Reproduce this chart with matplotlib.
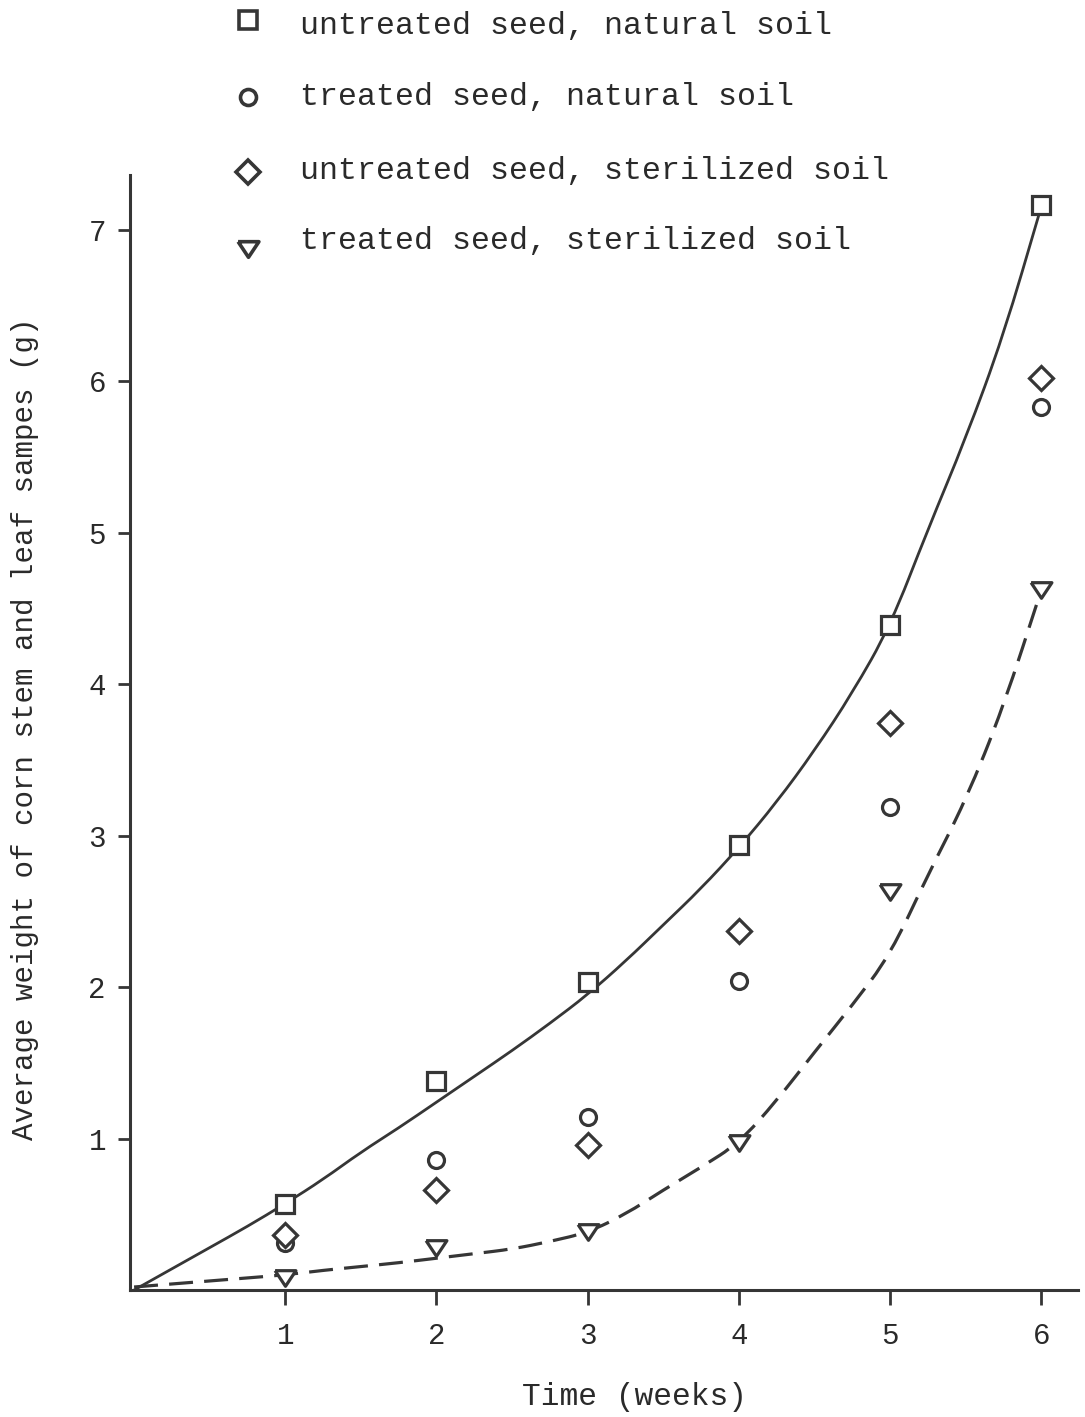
import matplotlib
matplotlib.use("Agg")
import matplotlib.pyplot as plt
from matplotlib.path import Path
from matplotlib.patches import PathPatch

# Average weight (g) of corn stem and leaf samples per week
weeks = [1, 2, 3, 4, 5, 6]
untreated_natural = [0.57, 1.38, 2.03, 2.94, 4.39, 7.16]
treated_natural = [0.31, 0.86, 1.14, 2.04, 3.19, 5.83]
untreated_sterilized = [0.36, 0.66, 0.96, 2.37, 3.74, 6.02]
treated_sterilized = [0.08, 0.28, 0.38, 0.97, 2.63, 4.62]

series_labels = [
    "untreated seed, natural soil",
    "treated seed, natural soil",
    "untreated seed, sterilized soil",
    "treated seed, sterilized soil",
]

# Hand-fitted growth curves
fit_weeks = [0, 0.25, 0.5, 0.75, 1.0, 1.25, 1.5, 1.75, 2.0, 2.25, 2.5, 2.75,
             3.0, 3.25, 3.5, 3.75, 4.0, 4.25, 4.5, 4.75, 5.0, 5.25, 5.5, 5.75, 6.0]
natural_fit = [0.0, 0.14, 0.28, 0.42, 0.57, 0.73, 0.91, 1.07, 1.24, 1.41, 1.58, 1.76,
               1.95, 2.17, 2.41, 2.65, 2.92, 3.22, 3.56, 3.94, 4.38, 5.02, 5.62, 6.30, 7.15]
sterilized_fit = [0.02, 0.04, 0.06, 0.08, 0.10, 0.13, 0.155, 0.18, 0.21, 0.24, 0.27, 0.32,
                  0.38, 0.50, 0.66, 0.81, 0.97, 1.25, 1.57, 1.88, 2.21, 2.74, 3.23, 3.85, 4.62]

x_ticks = [1, 2, 3, 4, 5, 6]
y_ticks = [1, 2, 3, 4, 5, 6, 7]

INK = "#363636"
TEXT = "#2a2a2a"
plt.rcParams["font.family"] = ["Liberation Mono", "DejaVu Sans Mono"]


def smooth_path(xs, ys):
    """Quadratic-spline path through the midpoints of the fitted points."""
    pts = list(zip(xs, ys))
    verts = [pts[0]]
    codes = [Path.MOVETO]
    for i in range(1, len(pts) - 1):
        mid = ((pts[i][0] + pts[i + 1][0]) / 2, (pts[i][1] + pts[i + 1][1]) / 2)
        verts += [pts[i], mid]
        codes += [Path.CURVE3, Path.CURVE3]
    verts.append(pts[-1])
    codes.append(Path.LINETO)
    return Path(verts, codes)


fig = plt.figure(figsize=(10.85, 14.17), dpi=100)
ax = fig.add_axes([0.1194, 0.0896, 0.8737, 0.7869])

ax.add_patch(PathPatch(smooth_path(fit_weeks, natural_fit), fill=False,
                       edgecolor=INK, lw=2.0, capstyle="round", zorder=2))
ax.add_patch(PathPatch(smooth_path(fit_weeks, sterilized_fit), fill=False,
                       edgecolor=INK, lw=2.3, linestyle=(0, (7.5, 3.5)), zorder=2))

tri_down = [(-1, 0.75), (1, 0.75), (0, -0.75), (-1, 0.75)]
styles = [
    dict(marker="s", ms=13.5),
    dict(marker="o", ms=11.5),
    dict(marker="D", ms=12.5),
    dict(marker=tri_down, ms=15),
]
series = [untreated_natural, treated_natural, untreated_sterilized, treated_sterilized]

for vals, st in zip(series, styles):
    ax.plot(weeks, vals, ls="none", mfc="white", mec=INK, mew=2.3, zorder=3,
            clip_on=False, **st)

ax.set_xlim(-0.03, 6.24)
ax.set_ylim(0, 7.36)
ax.set_xticks(x_ticks)
ax.set_yticks(y_ticks)

for side in ("top", "right"):
    ax.spines[side].set_visible(False)
for side in ("left", "bottom"):
    ax.spines[side].set_linewidth(2.2)
    ax.spines[side].set_color(INK)

ax.tick_params(axis="both", direction="out", width=2, color=INK,
               labelcolor=TEXT, labelsize=21)
ax.tick_params(axis="x", length=11, pad=12)
ax.tick_params(axis="y", length=9, pad=8)

ax.set_xlabel("Time (weeks)", fontsize=22.5, color=TEXT)
ax.xaxis.label.set_va("center")
ax.xaxis.set_label_coords(0.533, -0.096)
ax.set_ylabel("Average weight of corn stem and leaf sampes (g)", fontsize=21,
              color=TEXT)
ax.yaxis.label.set_va("center")
ax.yaxis.set_label_coords(-0.110, 0.503)

# Key at the top of the figure
W, H = 1085, 1417
key_marker_y = [20, 97, 172, 249]
key_text_y = [34, 105, 179, 249]
key_scale = [0.95, 1.0, 1.0, 1.0]
for st, lab, my, ty, sc in zip(styles, series_labels, key_marker_y, key_text_y, key_scale):
    kst = dict(st)
    kst["ms"] = st["ms"] * sc
    fig.add_artist(plt.Line2D([248 / W], [1 - my / H], transform=fig.transFigure,
                              ls="none", mfc="white", mec=INK, mew=2.6, **kst))
    fig.text(300 / W, 1 - ty / H, lab, fontsize=22.8, color=TEXT,
             ha="left", va="baseline")

fig.savefig("out.png", dpi=100, facecolor="white")
